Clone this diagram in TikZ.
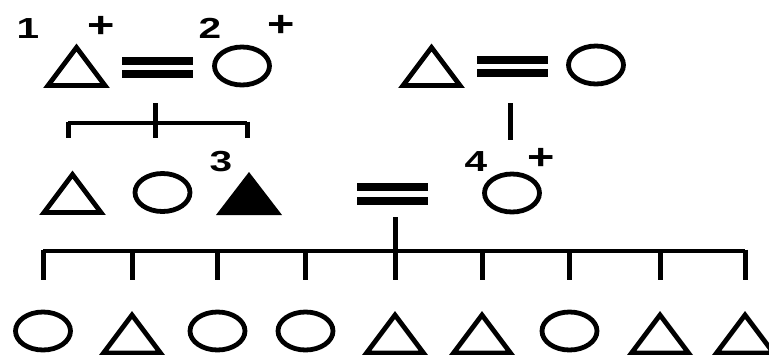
\documentclass[tikz,border=0pt]{standalone}
\usepackage{fontspec}
\usepackage{graphicx}
\setmainfont{Liberation Sans}
\usetikzlibrary{calc}
\begin{document}
\begin{tikzpicture}[x=1pt,y=-1pt,
  shapeline/.style={line width=4.8pt, line join=miter},
  male/.pic={\draw[shapeline] (-28.5,19) -- (0,-19) -- (28.5,19) -- cycle;},
  malefill/.pic={\fill (-33,21.5) -- (0,-21.5) -- (33,21.5) -- cycle;},
  female/.pic={\draw[shapeline] (0,0) ellipse[x radius=27.5pt, y radius=19pt];},
  marriage/.style={line width=8pt},
  sibline/.style={line width=3.5pt},
  descent/.style={line width=5pt},
  lbl/.style={font=\bfseries\fontsize{29}{29}\selectfont, inner sep=0pt},
  plbl/.style={font=\bfseries\fontsize{36}{36}\selectfont, inner sep=0pt},
]
\useasboundingbox (0,0) rectangle (769,354);

% generation I
\coordinate (p1) at (76.5,66.5);
\coordinate (p2) at (242,66);
\coordinate (p3) at (431.5,66.5);
\coordinate (p4) at (596,65);
\pic at (p1) {male};
\pic at (p2) {female};
\pic at (p3) {male};
\pic at (p4) {female};
\coordinate (m1) at (157.5,67.5);
\coordinate (m2) at (512.5,66);
\draw[marriage] ($(m1)+(-35.5,-6.5)$) -- ($(m1)+(35.5,-6.5)$);
\draw[marriage] ($(m1)+(-35.5,6.5)$) -- ($(m1)+(35.5,6.5)$);
\draw[marriage] ($(m2)+(-35.5,-6.5)$) -- ($(m2)+(35.5,-6.5)$);
\draw[marriage] ($(m2)+(-35.5,6.5)$) -- ($(m2)+(35.5,6.5)$);

% generation II
\coordinate (c1) at (72.5,193.5);
\coordinate (c2) at (162.5,192.5);
\coordinate (c3) at (249,193.5);
\coordinate (c4) at (512,193);
\pic at (c1) {male};
\pic at (c2) {female};
\pic at (c3) {malefill};
\pic at (c4) {female};
\coordinate (m3) at (392.5,194);
\draw[marriage] ($(m3)+(-35.5,-7)$) -- ($(m3)+(35.5,-7)$);
\draw[marriage] ($(m3)+(-35.5,7)$) -- ($(m3)+(35.5,7)$);

% descent lines from generation I
\draw[descent] ($(m1)+(-2.5,35.5)$) -- ($(m1)+(-2.5,70.5)$);
\draw[sibline] (68,123) -- (247,123);
\draw[descent] (68,121.5) -- (68,138);
\draw[descent] (247,121.5) -- (247,138);
\draw[descent] ($(m2)+(-2.5,37)$) -- ($(m2)+(-2.5,74)$);

% generation III
\foreach \n/\xx in {1/43,2/132,3/217.5,4/305.5,5/395,6/482,7/569.5,8/660,9/745}{
  \coordinate (g\n) at (\xx,334);
}
\pic at ($(g1)+(0,-3)$) {female};
\pic at (g2) {male};
\pic at ($(g3)+(0,-3)$) {female};
\pic at ($(g4)+(0,-3)$) {female};
\pic at (g5) {male};
\pic at (g6) {male};
\pic at ($(g7)+(0,-3)$) {female};
\pic at (g8) {male};
\pic at (g9) {male};

\coordinate (sib) at (0,251);
\draw[sibline] (g1 |- sib) -- (g9 |- sib);
\draw[descent] ($(m3)+(3,23)$) -- ($(m3)+(3,86)$);
\foreach \n in {1,2,3,4,6,7,8,9}{
  \draw[descent] ($(g\n |- sib)+(0,-1.5)$) -- ($(g\n |- sib)+(0,29)$);
}

% labels
\node[lbl] (l1) at (28,29) {\scalebox{1.4}[1]{1}};
\node[plbl] (l1p) at (101,27) {\scalebox{1.3}[1]{+}};
\node[lbl] (l2) at (210,28) {\scalebox{1.4}[1]{2}};
\node[plbl] (l2p) at (281,26) {\scalebox{1.3}[1]{+}};
\node[lbl] (l3) at (221,162) {\scalebox{1.4}[1]{3}};
\node[lbl] (l4) at (476,162) {\scalebox{1.4}[1]{4}};
\node[plbl] (l4p) at (541,159) {\scalebox{1.3}[1]{+}};
\end{tikzpicture}
\end{document}
